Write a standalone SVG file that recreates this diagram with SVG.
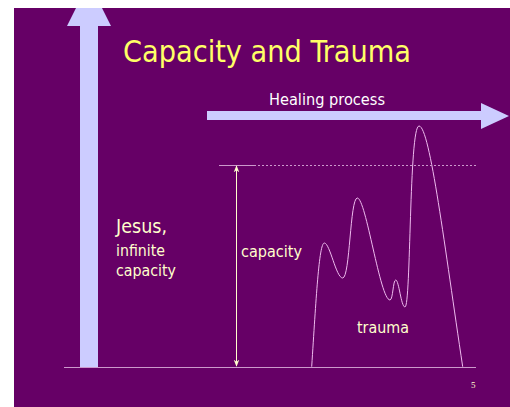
<svg xmlns="http://www.w3.org/2000/svg" width="510" height="407" viewBox="0 0 510 407">
<style>
.lbl{font-family:"DejaVu Sans Condensed","DejaVu Sans",sans-serif;fill:#ffffcc}
.arrow{fill:#ccccff}
</style>
<defs>
<marker id="ah" viewBox="0 0 10 10" refX="9" refY="5" markerWidth="7" markerHeight="7" orient="auto-start-reverse" markerUnits="userSpaceOnUse">
<path d="M0,1 L10,5 L0,9 L3,5 Z" fill="#ffffcc"/>
</marker>
</defs>
<rect x="0" y="0" width="510" height="407" fill="#ffffff"/>
<rect x="14" y="8" width="496" height="399" fill="#660066"/>
<text x="267" y="62" text-anchor="middle" font-family="'DejaVu Sans Condensed','DejaVu Sans',sans-serif" font-size="31" fill="#ffff66" textLength="288" lengthAdjust="spacingAndGlyphs">Capacity and Trauma</text>
<g id="infinite-arrow">
<polygon class="arrow" points="80,367 80,26 67,26 76,8 102,8 111,26 98,26 98,367"/>
</g>
<g id="healing-arrow">
<polygon class="arrow" points="207,111 481,111 481,103 509,116 481,129 481,120 207,120"/>
<text x="327" y="105" text-anchor="middle" font-family="'DejaVu Sans Condensed','DejaVu Sans',sans-serif" font-size="16" fill="#ffffff" textLength="116" lengthAdjust="spacingAndGlyphs">Healing process</text>
</g>
<g id="jesus">
<text class="lbl" x="116" y="233" font-size="19" textLength="51" lengthAdjust="spacingAndGlyphs">Jesus,</text>
<text class="lbl" x="116" y="256" font-size="16.5" textLength="49" lengthAdjust="spacingAndGlyphs">infinite</text>
<text class="lbl" x="116" y="276" font-size="16.5" textLength="60" lengthAdjust="spacingAndGlyphs">capacity</text>
</g>
<g id="capacity">
<text class="lbl" x="241" y="257" font-size="16.5" textLength="61" lengthAdjust="spacingAndGlyphs">capacity</text>
</g>
<g id="trauma">
<path d="M311.7,366.7 C316,300 319,243 324.3,243 C330,243 336,278 342.7,278 C350,278 350,198 357.3,198 C366,198 380,300 390,300 C393,300 393,280 395.7,280 C399,280 401,307 405,307 C411,307 409,126 419,126 C430,126 445,250 462.7,366.7" fill="none" stroke="#eebbee" stroke-width="1"/>
<text class="lbl" x="357" y="333" font-size="16.5" textLength="52" lengthAdjust="spacingAndGlyphs">trauma</text>
</g>
<g id="connectors">
<line x1="64" y1="367.5" x2="476" y2="367.5" stroke="#cc99cc" stroke-width="1"/>
<line x1="219" y1="165.5" x2="254" y2="165.5" stroke="#cc99cc" stroke-width="1"/>
<line x1="254" y1="165.5" x2="476" y2="165.5" stroke="#cc99cc" stroke-width="1" stroke-dasharray="2,2"/>
<line x1="236.5" y1="166" x2="236.5" y2="366" stroke="#ffffcc" stroke-width="1" marker-start="url(#ah)" marker-end="url(#ah)"/>
</g>
<text x="471" y="388" font-family="'Liberation Serif',serif" font-size="9" fill="#ffffcc">5</text>
</svg>
